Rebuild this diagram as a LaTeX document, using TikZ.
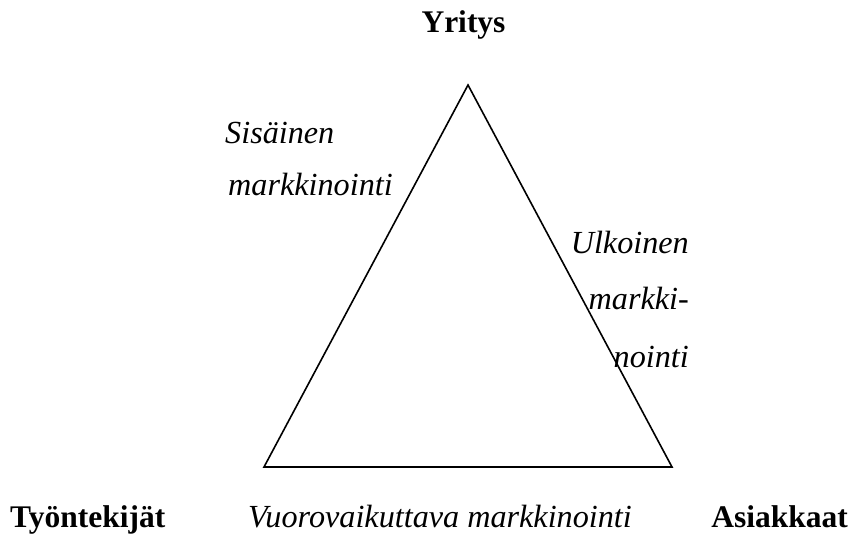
\documentclass[tikz,border=0pt]{standalone}
\usepackage{fontspec}
\setmainfont{Liberation Serif}
\begin{document}
\begin{tikzpicture}[x=1pt,y=-1pt,
  lbl/.style={inner sep=0pt,font=\fontsize{31.5}{38}\selectfont},
  blbl/.style={lbl,font=\fontsize{31.5}{38}\selectfont\bfseries},
  ilbl/.style={lbl,font=\fontsize{32.2}{38}\selectfont\itshape},
  edge/.style={line width=1.6pt,line join=miter}]
\useasboundingbox (0,0) rectangle (851,535);
\coordinate (top) at (468,85);
\coordinate (bl) at (264,467);
\coordinate (br) at (672,467);
\draw[edge] (top) -- (br) -- (bl) -- cycle;
\node[blbl,anchor=base] (yritys) at (463.5,33) {Yritys};
\node[blbl,anchor=base west] (tyontekijat) at (10,527) {Työntekijät};
\node[ilbl,anchor=base west] (vuoro) at (248,527) {Vuorovaikuttava markkinointi};
\node[blbl,anchor=base east] (asiakkaat) at (848,527) {Asiakkaat};
\node[ilbl,anchor=base west] (sis1) at (225,143) {Sisäinen};
\node[ilbl,anchor=base west] (sis2) at (228,195) {markkinointi};
\node[ilbl,anchor=base east] (ulk1) at (689,253) {Ulkoinen};
\node[ilbl,anchor=base east] (ulk2) at (689,309) {markki-};
\node[ilbl,anchor=base east] (ulk3) at (689,367) {nointi};
\end{tikzpicture}
\end{document}
